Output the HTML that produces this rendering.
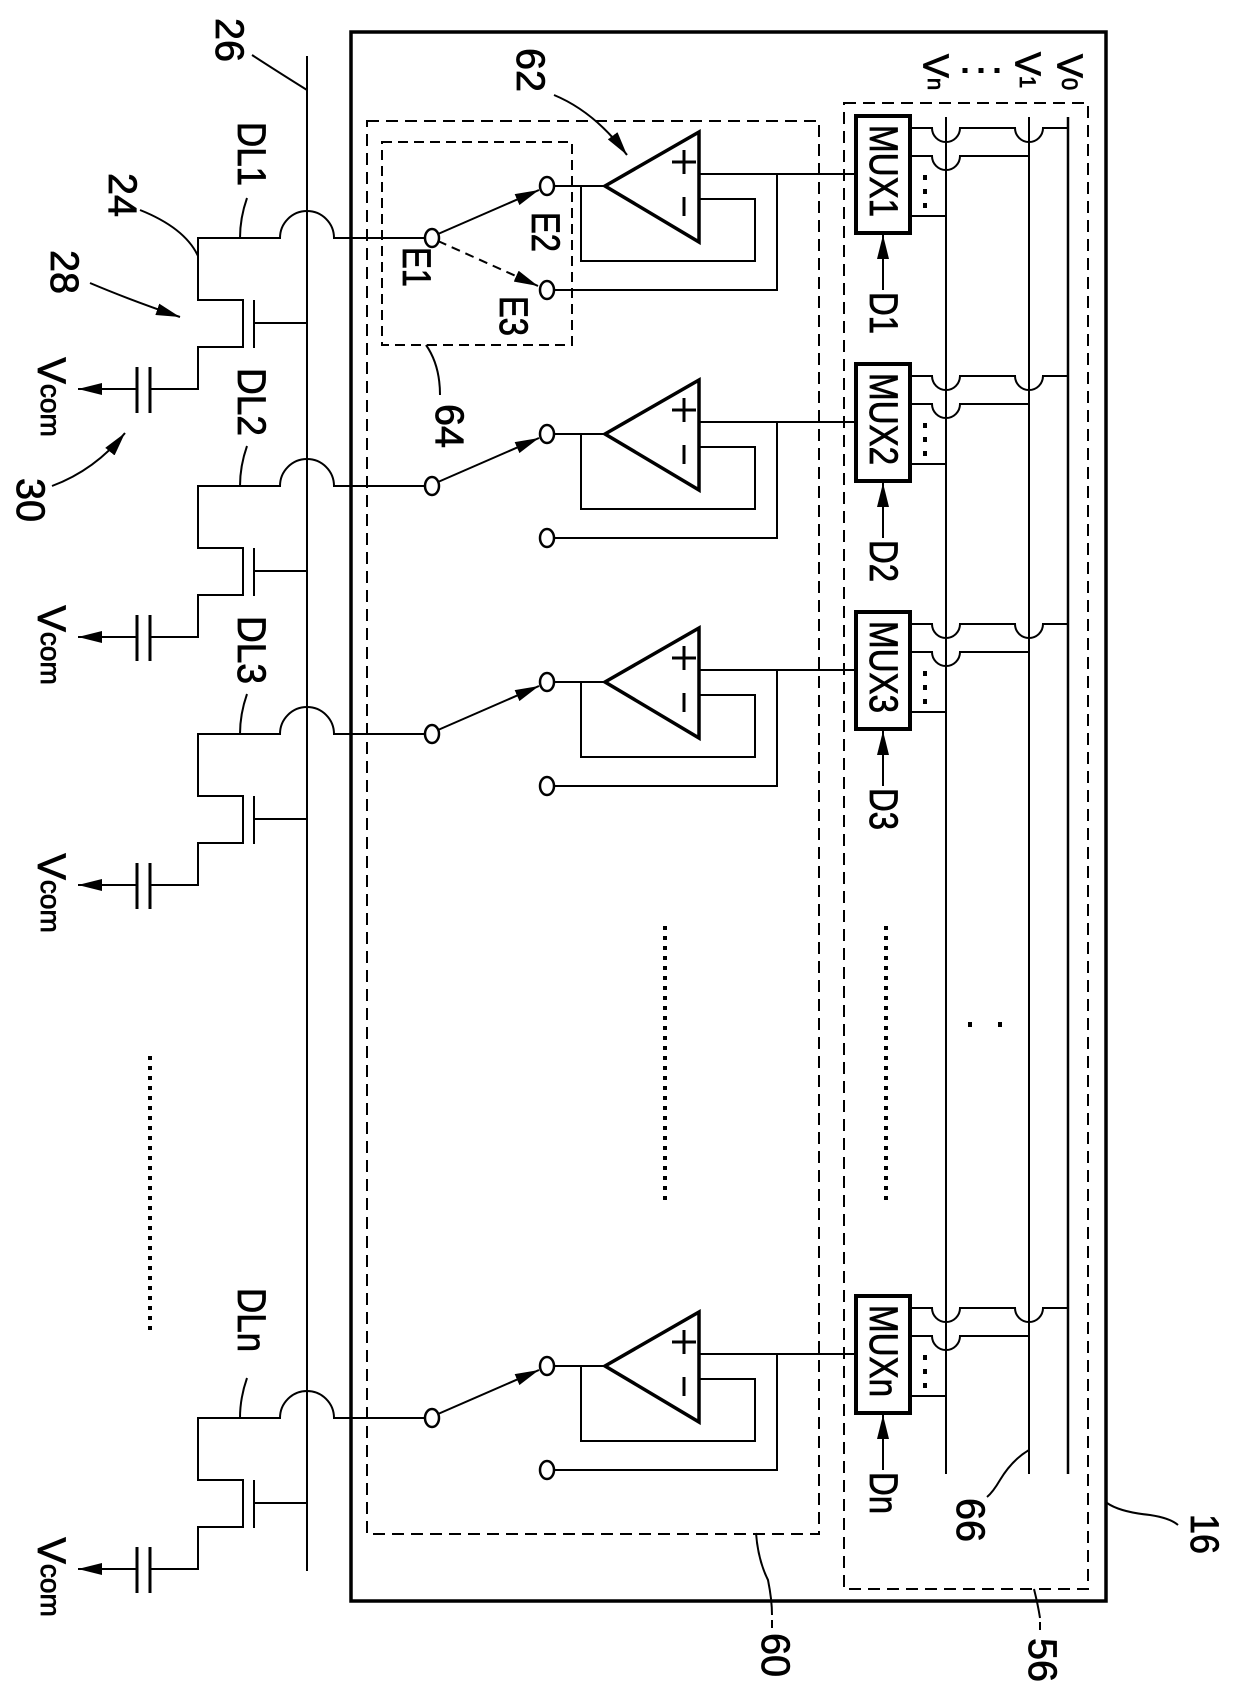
<!DOCTYPE html>
<html><head><meta charset="utf-8"><style>
html,body{margin:0;padding:0;background:#fff;}
svg{display:block;}
text{font-family:"Liberation Sans",sans-serif;fill:#000;stroke:#000;stroke-width:0.8;}
</style></head><body>
<svg width="1240" height="1690" viewBox="0 0 1240 1690" xmlns="http://www.w3.org/2000/svg">
<defs>
<marker id="a" viewBox="0 0 20 10" refX="20" refY="5" markerWidth="24" markerHeight="12" markerUnits="userSpaceOnUse" orient="auto"><path d="M0,0 L20,5 L0,10 Z" fill="#000" stroke="none"/></marker>
</defs>
<g fill="none" stroke="#000" stroke-width="2">
<rect x="351" y="32" width="755" height="1569" stroke-width="3.5"/>
<rect x="367" y="121" width="452" height="1413" stroke-dasharray="12 7"/>
<rect x="844" y="103" width="244" height="1486" stroke-dasharray="12 7"/>
<line x1="307" y1="56" x2="307" y2="1571"/>
<line x1="946" y1="117" x2="946" y2="1474"/>
<line x1="1029" y1="117" x2="1029" y2="1474"/>
<line x1="1068" y1="117" x2="1068" y2="1474" stroke-width="2.5"/>
<path d="M252,55 Q275,70 307,90"/>
<path d="M140,210 Q185,228 198,256"/>
<path d="M90,283 Q130,300 180,317" marker-end="url(#a)"/>
<path d="M52,486 Q95,470 125,433" marker-end="url(#a)"/>
<path d="M554,95 Q595,112 627,155" marker-end="url(#a)"/>
<path d="M426,345 Q440,365 440,395"/>
<path d="M1107,1503 Q1120,1512 1150,1515 Q1170,1518 1178,1525"/>
<path d="M1029,1450 Q1012,1460 1000,1480 Q993,1492 987,1497"/>
<path d="M1034,1589 Q1038,1605 1040,1618" />
<line x1="1040" y1="1622" x2="1040" y2="1630"/>
<path d="M756,1533 Q758,1560 768,1580 Q772,1600 772,1615"/>
<line x1="772" y1="1620" x2="772" y2="1628"/>
<rect x="382" y="142" width="190" height="203" stroke-dasharray="10 6"/>
<line x1="438" y1="241" x2="538" y2="286" stroke-dasharray="9 6" marker-end="url(#a)"/>
</g>

<g id="ch" fill="none" stroke="#000" stroke-width="2">
<path d="M424,238 H334 A27,27 0 0 0 280,238 H198 V300 H243 V347 H198 V389 H150"/>
<path d="M247,198 Q240,218 240,238"/>
<line x1="150" y1="367" x2="150" y2="413" stroke-width="3"/>
<line x1="137" y1="367" x2="137" y2="413" stroke-width="3"/>
<line x1="137" y1="389" x2="78" y2="389" marker-end="url(#a)"/>
<line x1="254" y1="300" x2="254" y2="348"/>
<line x1="254" y1="323" x2="307" y2="323"/>
<ellipse cx="432" cy="238" rx="7" ry="9" stroke-width="2.5"/>
<ellipse cx="547" cy="186" rx="7" ry="9" stroke-width="2.5"/>
<ellipse cx="547" cy="290" rx="7" ry="9" stroke-width="2.5"/>
<line x1="438" y1="234" x2="539" y2="190" marker-end="url(#a)"/>
<path d="M554,186 H605 M581,186 V261 H755 V199 H699 M699,174 H855 M777,174 V290 H554"/>
<path d="M605,186 L699,132 L699,242 Z" stroke-width="3.5" stroke-linejoin="miter"/>
<path d="M672,162 H696 M684,150 V174 M684,197 V216" stroke-width="3"/>
<rect x="856" y="116" width="54" height="117" stroke-width="4"/>
<line x1="883" y1="290" x2="883" y2="235" marker-end="url(#a)"/>
<path d="M910,128 H932 A14,14 0 0 0 960,128 H1015 A14,14 0 0 0 1043,128 H1068"/>
<path d="M910,156 H932 A14,14 0 0 0 960,156 H1029"/>
<path d="M910,216 H946"/>
<path d="M925,175 v5 M925,189 v5 M925,203 v5" stroke-width="4"/>
</g>
<use href="#ch" transform="translate(0,248)"/>
<use href="#ch" transform="translate(0,496)"/>
<use href="#ch" transform="translate(0,1180)"/>

<g stroke="#000" stroke-width="4" fill="none">
<line x1="150" y1="1056" x2="150" y2="1333" stroke-dasharray="4 6"/>
<line x1="665" y1="926" x2="665" y2="1203" stroke-dasharray="4 6"/>
<line x1="886" y1="926" x2="886" y2="1203" stroke-dasharray="4 6"/>
<path d="M970,1022 v5 M1000,1022 v5"/>
<path d="M965,68 v5 M981,68 v5 M997,68 v5" stroke-width="5"/>
</g>

<g font-size="40">
<text transform="translate(229,40) rotate(90)" text-anchor="middle" dominant-baseline="central" textLength="44" lengthAdjust="spacingAndGlyphs">26</text>
<text transform="translate(122,195) rotate(90)" text-anchor="middle" dominant-baseline="central" textLength="44" lengthAdjust="spacingAndGlyphs">24</text>
<text transform="translate(64,272) rotate(90)" text-anchor="middle" dominant-baseline="central" textLength="44" lengthAdjust="spacingAndGlyphs">28</text>
<text transform="translate(30,500) rotate(90)" text-anchor="middle" dominant-baseline="central" textLength="44" lengthAdjust="spacingAndGlyphs">30</text>
<text transform="translate(530,70) rotate(90)" text-anchor="middle" dominant-baseline="central" textLength="44" lengthAdjust="spacingAndGlyphs">62</text>
<text transform="translate(449,426) rotate(90)" text-anchor="middle" dominant-baseline="central" textLength="44" lengthAdjust="spacingAndGlyphs">64</text>
<text transform="translate(1204,1534) rotate(90)" text-anchor="middle" dominant-baseline="central" textLength="40" lengthAdjust="spacingAndGlyphs">16</text>
<text transform="translate(970,1520) rotate(90)" text-anchor="middle" dominant-baseline="central" textLength="44" lengthAdjust="spacingAndGlyphs">66</text>
<text transform="translate(1042,1660) rotate(90)" text-anchor="middle" dominant-baseline="central" textLength="44" lengthAdjust="spacingAndGlyphs">56</text>
<text transform="translate(775,1655) rotate(90)" text-anchor="middle" dominant-baseline="central" textLength="44" lengthAdjust="spacingAndGlyphs">60</text>
<text transform="translate(416,267) rotate(90)" text-anchor="middle" dominant-baseline="central" textLength="40" lengthAdjust="spacingAndGlyphs">E1</text>
<text transform="translate(545,232) rotate(90)" text-anchor="middle" dominant-baseline="central" textLength="40" lengthAdjust="spacingAndGlyphs">E2</text>
<text transform="translate(513,316) rotate(90)" text-anchor="middle" dominant-baseline="central" textLength="40" lengthAdjust="spacingAndGlyphs">E3</text>
<text transform="translate(936,72) rotate(90)" text-anchor="middle" dominant-baseline="central" font-size="36">V<tspan font-size="22">n</tspan></text>
<text transform="translate(1028,70) rotate(90)" text-anchor="middle" dominant-baseline="central" font-size="36">V<tspan font-size="22">1</tspan></text>
<text transform="translate(1070,72) rotate(90)" text-anchor="middle" dominant-baseline="central" font-size="36">V<tspan font-size="22">0</tspan></text>
</g>

<g font-size="40">
<text transform="translate(251,154) rotate(90)" text-anchor="middle" dominant-baseline="central" textLength="64" lengthAdjust="spacingAndGlyphs">DL1</text>
<text transform="translate(51,397) rotate(90)" text-anchor="middle" dominant-baseline="central">V<tspan font-size="28">com</tspan></text>
<text transform="translate(883,171) rotate(90)" text-anchor="middle" dominant-baseline="central" textLength="92" lengthAdjust="spacingAndGlyphs">MUX1</text>
<text transform="translate(883,313) rotate(90)" text-anchor="middle" dominant-baseline="central" textLength="42" lengthAdjust="spacingAndGlyphs">D1</text>
<text transform="translate(251,402) rotate(90)" text-anchor="middle" dominant-baseline="central" textLength="68" lengthAdjust="spacingAndGlyphs">DL2</text>
<text transform="translate(51,645) rotate(90)" text-anchor="middle" dominant-baseline="central">V<tspan font-size="28">com</tspan></text>
<text transform="translate(883,419) rotate(90)" text-anchor="middle" dominant-baseline="central" textLength="92" lengthAdjust="spacingAndGlyphs">MUX2</text>
<text transform="translate(883,561) rotate(90)" text-anchor="middle" dominant-baseline="central" textLength="42" lengthAdjust="spacingAndGlyphs">D2</text>
<text transform="translate(251,650) rotate(90)" text-anchor="middle" dominant-baseline="central" textLength="68" lengthAdjust="spacingAndGlyphs">DL3</text>
<text transform="translate(51,893) rotate(90)" text-anchor="middle" dominant-baseline="central">V<tspan font-size="28">com</tspan></text>
<text transform="translate(883,667) rotate(90)" text-anchor="middle" dominant-baseline="central" textLength="92" lengthAdjust="spacingAndGlyphs">MUX3</text>
<text transform="translate(883,809) rotate(90)" text-anchor="middle" dominant-baseline="central" textLength="42" lengthAdjust="spacingAndGlyphs">D3</text>
<text transform="translate(251,1320) rotate(90)" text-anchor="middle" dominant-baseline="central" textLength="64" lengthAdjust="spacingAndGlyphs">DLn</text>
<text transform="translate(51,1577) rotate(90)" text-anchor="middle" dominant-baseline="central">V<tspan font-size="28">com</tspan></text>
<text transform="translate(883,1351) rotate(90)" text-anchor="middle" dominant-baseline="central" textLength="92" lengthAdjust="spacingAndGlyphs">MUXn</text>
<text transform="translate(883,1493) rotate(90)" text-anchor="middle" dominant-baseline="central" textLength="42" lengthAdjust="spacingAndGlyphs">Dn</text>
</g>
</svg>
</body></html>
